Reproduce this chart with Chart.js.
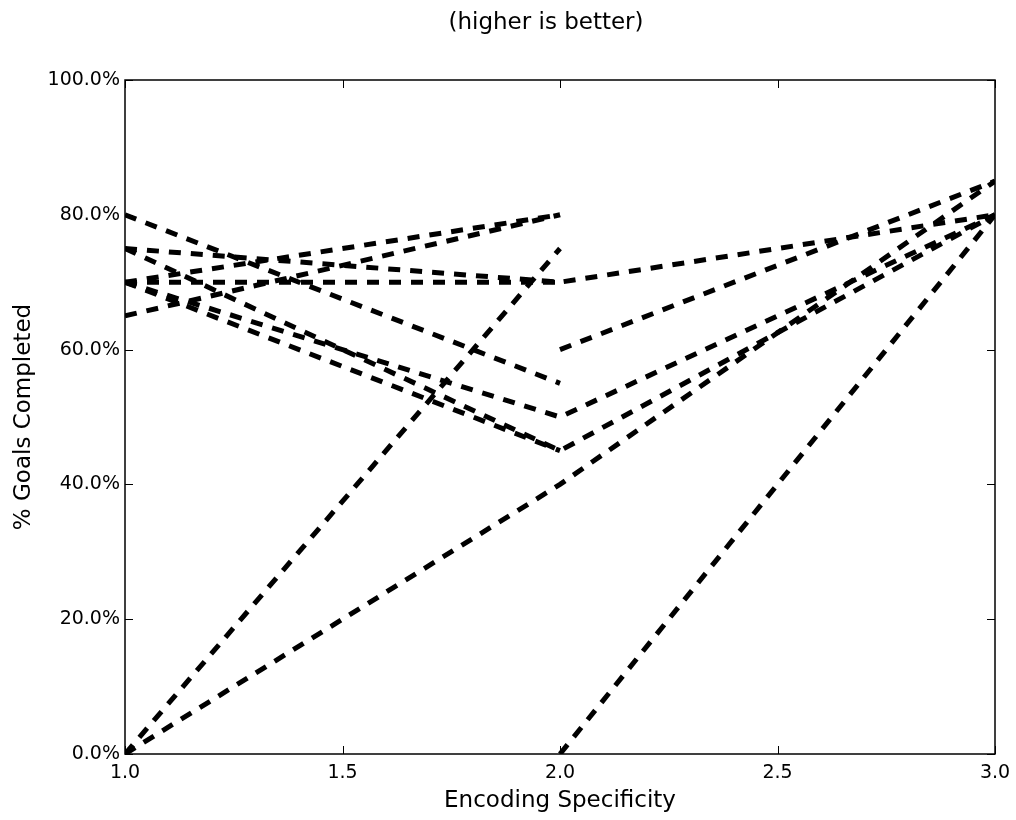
<!DOCTYPE html>
<html>
<head>
<meta charset="utf-8">
<script src="https://cdn.jsdelivr.net/npm/chart.js@4/dist/chart.umd.min.js"></script>
<style>body{margin:0;background:#fff}</style>
</head>
<body>
<canvas id="chart" width="1016" height="820"></canvas>
<script>
// encoding specificity levels (x) and % goals completed per run (y), null = no value
const specificity = [1.0, 2.0, 3.0];
const run01 = [80, 55, null];
const run02 = [75, 70, 80];
const run03 = [70, 70, null];
const run04 = [75, 45, 80];
const run05 = [70, 45, null];
const run06 = [70, 50, 80];
const run07 = [65, 80, null];
const run08 = [70, 80, null];
const run09 = [0, 75, null];
const run10 = [0, 40, 85];
const run11 = [null, 60, 85];
const run12 = [null, 0, 80];
const runs = [run01, run02, run03, run04, run05, run06, run07, run08, run09, run10, run11, run12];

const xTickValues = [1.0, 1.5, 2.0, 2.5, 3.0];
const yTickValues = [0, 20, 40, 60, 80, 100];

const font = 'DejaVu Sans';
const titleText = '(higher is better)';

// title centred like the original (a bit left of the plot centre)
const topTitle = {
    id: 'topTitle',
    afterDraw(chart) {
        const c = chart.ctx;
        c.save();
        c.fillStyle = '#000';
        c.font = '23px "' + font + '"';
        c.textAlign = 'center';
        c.textBaseline = 'middle';
        c.fillText(titleText, 546, 23);
        c.restore();
    }
};

// matplotlib-like frame with ticks pointing inward on all four sides
const insideTicks = {
    id: 'insideTicks',
    afterDraw(chart) {
        const { ctx, chartArea: a, scales: { x, y } } = chart;
        ctx.save();
        ctx.strokeStyle = '#000';
        ctx.lineWidth = 1;
        ctx.beginPath();
        x.ticks.forEach(t => {
            const px = Math.round(x.getPixelForValue(t.value)) + 0.5;
            ctx.moveTo(px, a.bottom); ctx.lineTo(px, a.bottom - 8);
            ctx.moveTo(px, a.top); ctx.lineTo(px, a.top + 8);
        });
        y.ticks.forEach(t => {
            const py = Math.round(y.getPixelForValue(t.value)) + 0.5;
            ctx.moveTo(a.left, py); ctx.lineTo(a.left + 8, py);
            ctx.moveTo(a.right, py); ctx.lineTo(a.right - 8, py);
        });
        ctx.stroke();
        ctx.lineWidth = 1.5;
        ctx.strokeRect(a.left, a.top, a.right - a.left, a.bottom - a.top);
        ctx.restore();
    }
};

const datasets = runs.map(r => ({
    data: r.map((v, i) => ({ x: specificity[i], y: v })),
    borderColor: '#000',
    borderWidth: 5,
    borderDash: [12, 10],
    borderCapStyle: 'butt',
    pointRadius: 0,
    fill: false,
    tension: 0,
    spanGaps: false,
}));

const ctx = document.getElementById('chart').getContext('2d');
new Chart(ctx, {
    type: 'line',
    data: { datasets },
    plugins: [insideTicks, topTitle],
    options: {
        responsive: false,
        animation: false,
        layout: { padding: { top: 80, right: 21, bottom: 0, left: 0 } },
        plugins: {
            legend: { display: false },
            tooltip: { enabled: false },
            title: { display: false },
        },
        scales: {
            x: {
                type: 'linear',
                min: 1,
                max: 3,
                afterBuildTicks: s => { s.ticks = xTickValues.map(v => ({ value: v })); },
                afterFit: s => { s.height = 66; },
                grid: { display: false },
                border: { display: false },
                ticks: {
                    color: '#000',
                    padding: 0,
                    maxRotation: 0,
                    font: { family: font, size: 19 },
                    callback: v => Number(v).toFixed(1),
                },
                title: {
                    display: true,
                    text: 'Encoding Specificity',
                    color: '#000',
                    font: { family: font, size: 23 },
                    padding: { top: 0, bottom: 5 },
                },
            },
            y: {
                min: 0,
                max: 100,
                afterBuildTicks: s => { s.ticks = yTickValues.map(v => ({ value: v })); },
                afterFit: s => { s.width = 125; },
                grid: { display: false },
                border: { display: false },
                ticks: {
                    color: '#000',
                    padding: -3,
                    font: { family: font, size: 19 },
                    callback: v => Number(v).toFixed(1) + '%',
                },
                title: {
                    display: true,
                    text: '% Goals Completed',
                    color: '#000',
                    font: { family: font, size: 23 },
                    padding: { top: 10, bottom: 0 },
                },
            },
        },
    },
});
</script>
</body>
</html>
